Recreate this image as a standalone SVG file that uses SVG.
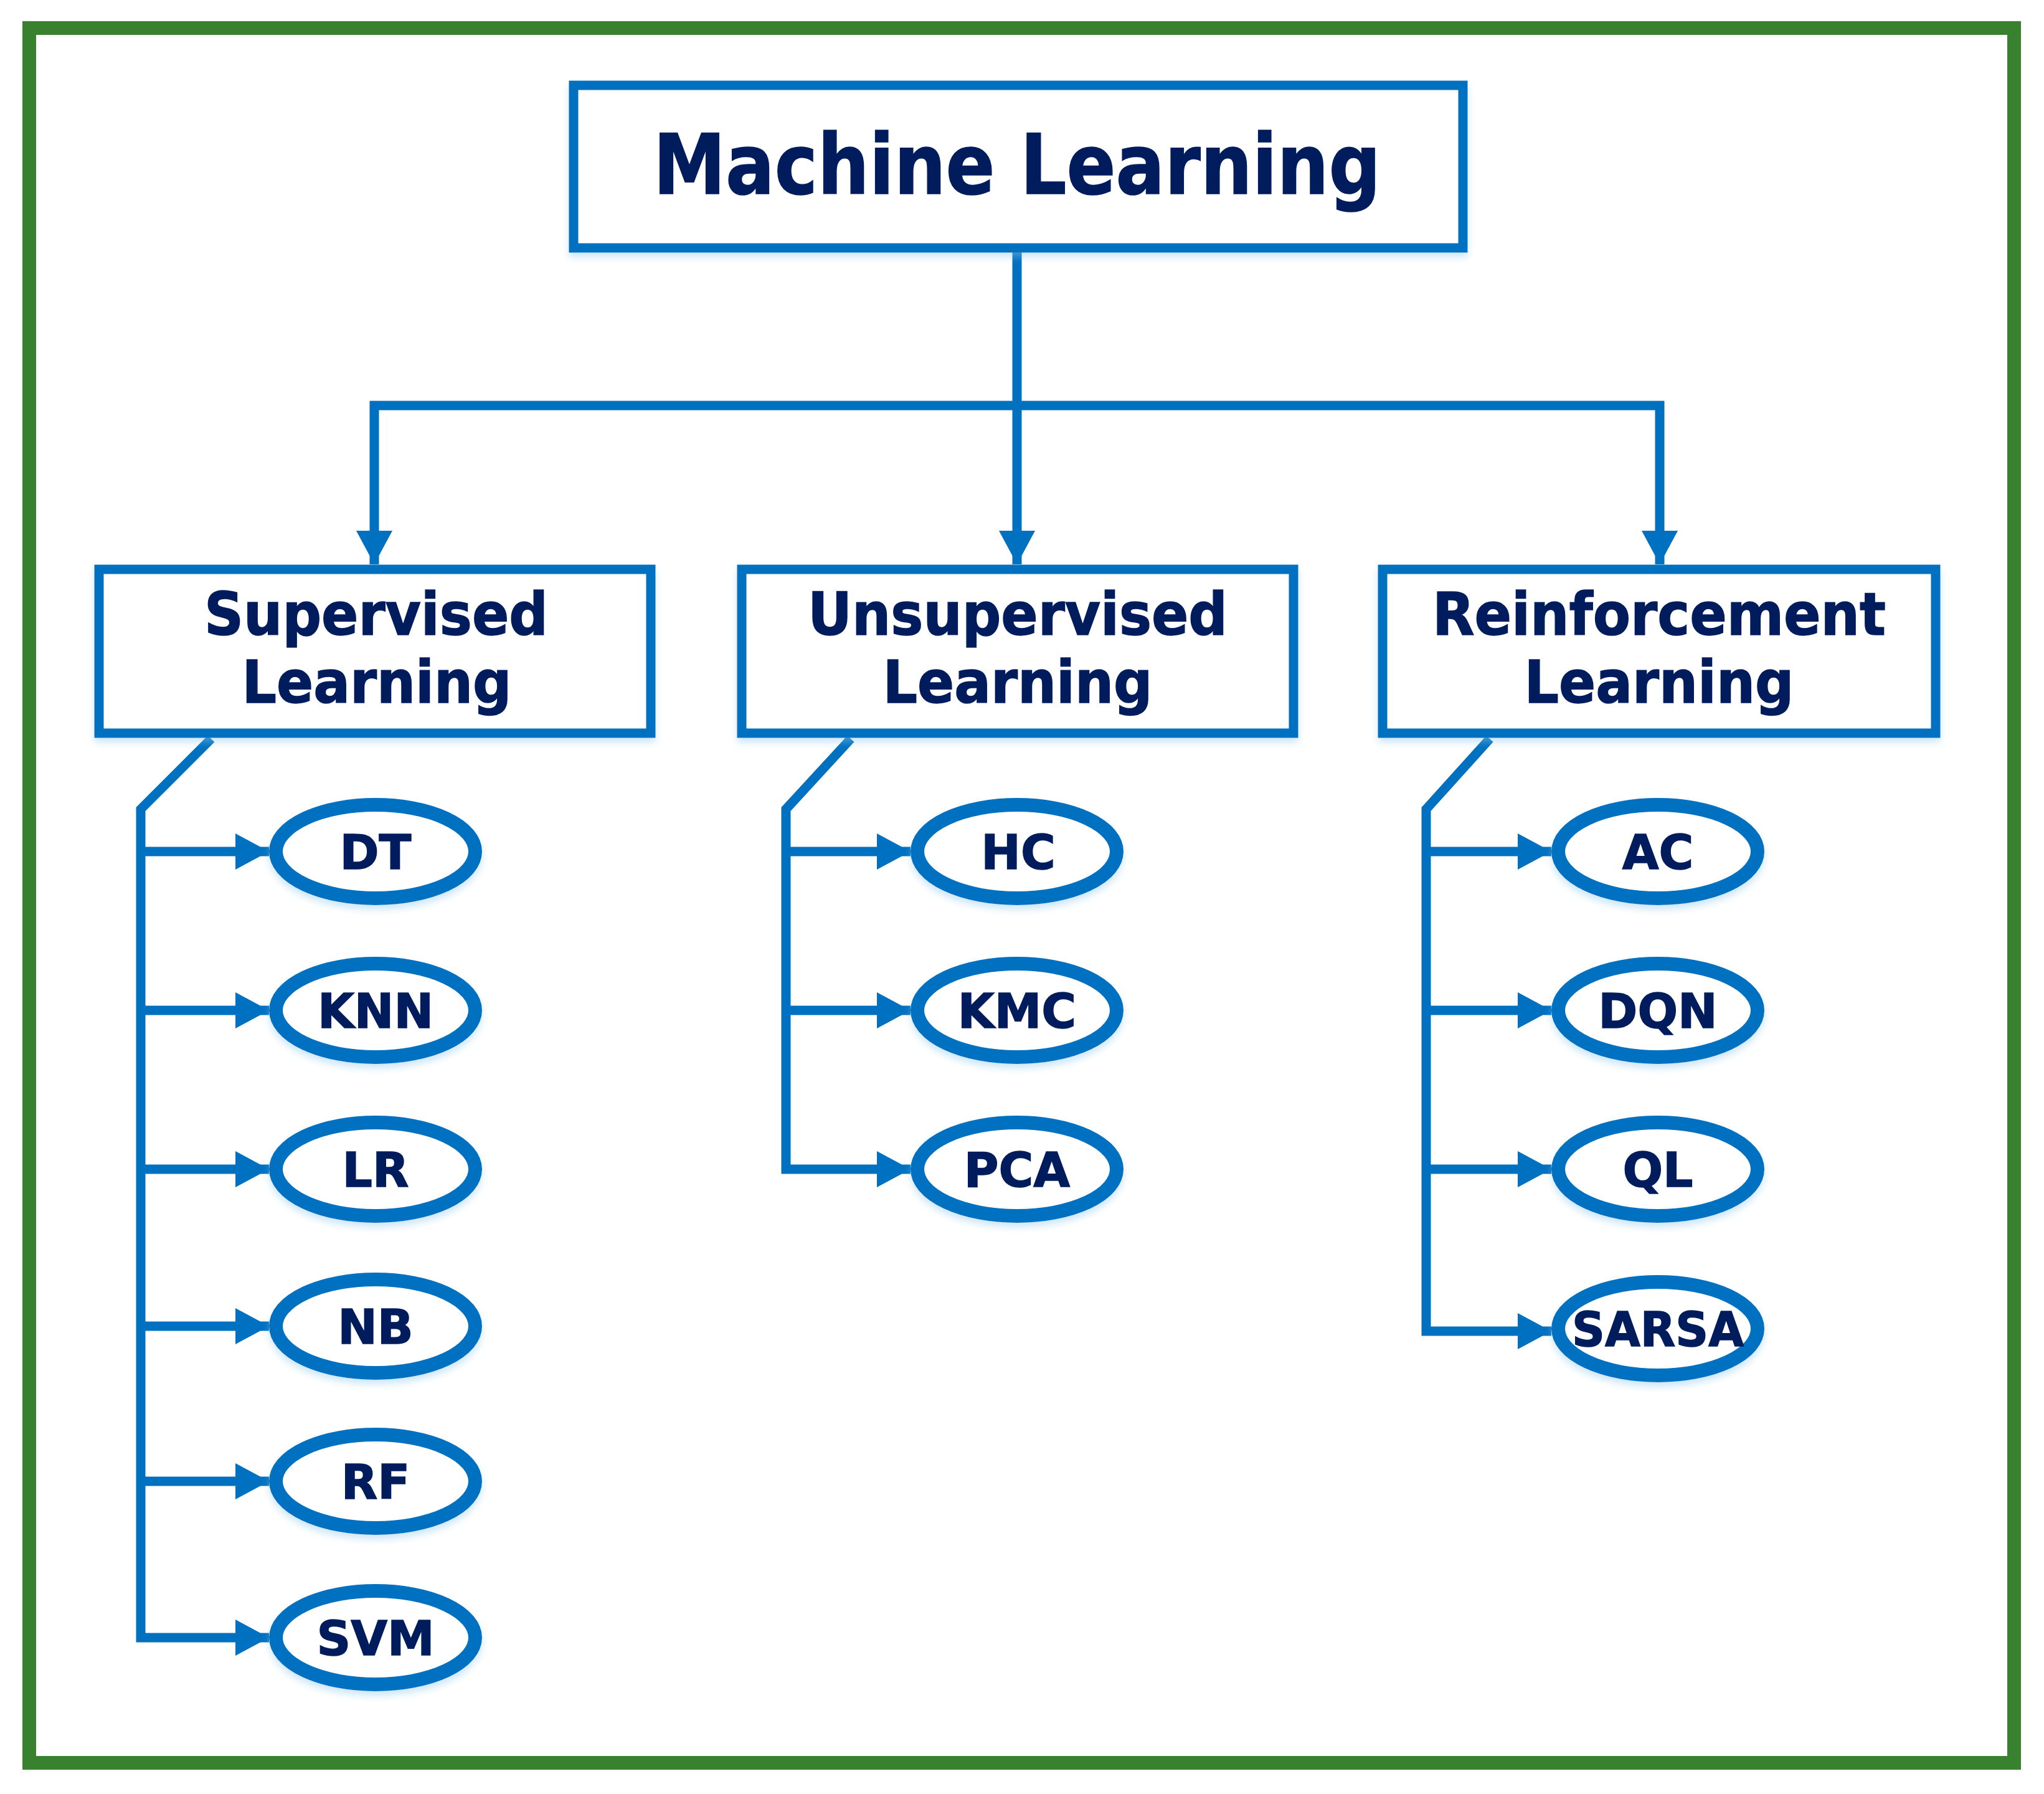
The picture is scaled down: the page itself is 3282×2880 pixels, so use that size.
<svg xmlns="http://www.w3.org/2000/svg" width="3282" height="2880" viewBox="0 0 3282 2880">
<style>
.frame{fill:#ffffff;stroke:#37812f;stroke-width:22}
.box{fill:#ffffff;stroke:#0070c0;stroke-width:15}
.leaf{fill:#ffffff;stroke:#0070c0;stroke-width:22}
.conn{fill:none;stroke:#0070c0;stroke-width:15;stroke-linejoin:miter}
.t{font-family:"DejaVu Sans","Liberation Sans",sans-serif;font-weight:bold;fill:#021c5c;stroke:#021c5c;stroke-width:1.5;text-anchor:middle}
.big{font-size:134px}
.mid{font-size:94px}
.small{font-size:76px}
</style>
<defs>
<marker id="arr" markerUnits="userSpaceOnUse" viewBox="0 0 54 58" markerWidth="54" markerHeight="58" refX="54" refY="29" orient="auto">
<path d="M0,0 L54,29 L0,58 z" fill="#0070c0"/>
</marker>
<filter id="sh" x="-10%" y="-10%" width="120%" height="130%">
<feDropShadow dx="0" dy="7" stdDeviation="6" flood-color="#8cc8ee" flood-opacity="0.45"/>
</filter>
</defs>
<rect width="3282" height="2880" fill="#ffffff"/>
<rect class="frame" x="47" y="45" width="3187" height="2785"/>

<g id="connectors">
<path class="conn" d="M1633,404 V651"/>
<path class="conn" d="M594,651 H2672"/>
<path class="conn" d="M601,644 V906" marker-end="url(#arr)"/>
<path class="conn" d="M1633,651 V906" marker-end="url(#arr)"/>
<path class="conn" d="M2665,644 V906" marker-end="url(#arr)"/>

<path class="conn" d="M339,1186 L226,1299 V2629 H432" marker-end="url(#arr)"/>
<path class="conn" d="M226,1367 H432" marker-end="url(#arr)"/>
<path class="conn" d="M226,1622 H432" marker-end="url(#arr)"/>
<path class="conn" d="M226,1877 H432" marker-end="url(#arr)"/>
<path class="conn" d="M226,2129 H432" marker-end="url(#arr)"/>
<path class="conn" d="M226,2378 H432" marker-end="url(#arr)"/>

<path class="conn" d="M1366,1186 L1262,1299 V1877 H1462" marker-end="url(#arr)"/>
<path class="conn" d="M1262,1367 H1462" marker-end="url(#arr)"/>
<path class="conn" d="M1262,1622 H1462" marker-end="url(#arr)"/>

<path class="conn" d="M2392,1186 L2290,1299 V2137 H2491" marker-end="url(#arr)"/>
<path class="conn" d="M2290,1367 H2491" marker-end="url(#arr)"/>
<path class="conn" d="M2290,1622 H2491" marker-end="url(#arr)"/>
<path class="conn" d="M2290,1877 H2491" marker-end="url(#arr)"/>
</g>

<g id="ml" filter="url(#sh)">
<rect class="box" x="921" y="137" width="1428" height="261"/>
<text class="t big" x="1633" y="311" textLength="1168" lengthAdjust="spacingAndGlyphs">Machine Learning</text>
</g>

<g id="supervised" filter="url(#sh)">
<rect class="box" x="159" y="914" width="886" height="263"/>
<text class="t mid" x="604" y="1019" textLength="552" lengthAdjust="spacingAndGlyphs">Supervised</text>
<text class="t mid" x="605" y="1128" textLength="433" lengthAdjust="spacingAndGlyphs">Learning</text>
</g>
<g id="unsupervised" filter="url(#sh)">
<rect class="box" x="1191" y="914" width="886" height="263"/>
<text class="t mid" x="1634" y="1019" textLength="674" lengthAdjust="spacingAndGlyphs">Unsupervised</text>
<text class="t mid" x="1634" y="1128" textLength="433" lengthAdjust="spacingAndGlyphs">Learning</text>
</g>
<g id="reinforcement" filter="url(#sh)">
<rect class="box" x="2220" y="914" width="888" height="263"/>
<text class="t mid" x="2664" y="1019" textLength="728" lengthAdjust="spacingAndGlyphs">Reinforcement</text>
<text class="t mid" x="2664" y="1128" textLength="433" lengthAdjust="spacingAndGlyphs">Learning</text>
</g>

<g id="dt" filter="url(#sh)"><ellipse class="leaf" cx="603" cy="1367" rx="160" ry="75"/><text class="t small" x="603" y="1395">DT</text></g>
<g id="knn" filter="url(#sh)"><ellipse class="leaf" cx="603" cy="1622" rx="160" ry="75"/><text class="t small" x="603" y="1650">KNN</text></g>
<g id="lr" filter="url(#sh)"><ellipse class="leaf" cx="603" cy="1877" rx="160" ry="75"/><text class="t small" x="603" y="1905">LR</text></g>
<g id="nb" filter="url(#sh)"><ellipse class="leaf" cx="603" cy="2129" rx="160" ry="75"/><text class="t small" x="603" y="2157">NB</text></g>
<g id="rf" filter="url(#sh)"><ellipse class="leaf" cx="603" cy="2378" rx="160" ry="75"/><text class="t small" x="603" y="2406">RF</text></g>
<g id="svm" filter="url(#sh)"><ellipse class="leaf" cx="603" cy="2629" rx="160" ry="75"/><text class="t small" x="603" y="2657">SVM</text></g>

<g id="hc" filter="url(#sh)"><ellipse class="leaf" cx="1633" cy="1367" rx="160" ry="75"/><text class="t small" x="1635" y="1395">HC</text></g>
<g id="kmc" filter="url(#sh)"><ellipse class="leaf" cx="1633" cy="1622" rx="160" ry="75"/><text class="t small" x="1633" y="1650">KMC</text></g>
<g id="pca" filter="url(#sh)"><ellipse class="leaf" cx="1633" cy="1877" rx="160" ry="75"/><text class="t small" x="1633" y="1905">PCA</text></g>

<g id="ac" filter="url(#sh)"><ellipse class="leaf" cx="2662" cy="1367" rx="160" ry="75"/><text class="t small" x="2662" y="1395">AC</text></g>
<g id="dqn" filter="url(#sh)"><ellipse class="leaf" cx="2662" cy="1622" rx="160" ry="75"/><text class="t small" x="2662" y="1650">DQN</text></g>
<g id="ql" filter="url(#sh)"><ellipse class="leaf" cx="2662" cy="1877" rx="160" ry="75"/><text class="t small" x="2662" y="1905">QL</text></g>
<g id="sarsa" filter="url(#sh)"><ellipse class="leaf" cx="2662" cy="2133" rx="160" ry="75"/><text class="t small" x="2662" y="2161" textLength="276" lengthAdjust="spacingAndGlyphs">SARSA</text></g>
</svg>
